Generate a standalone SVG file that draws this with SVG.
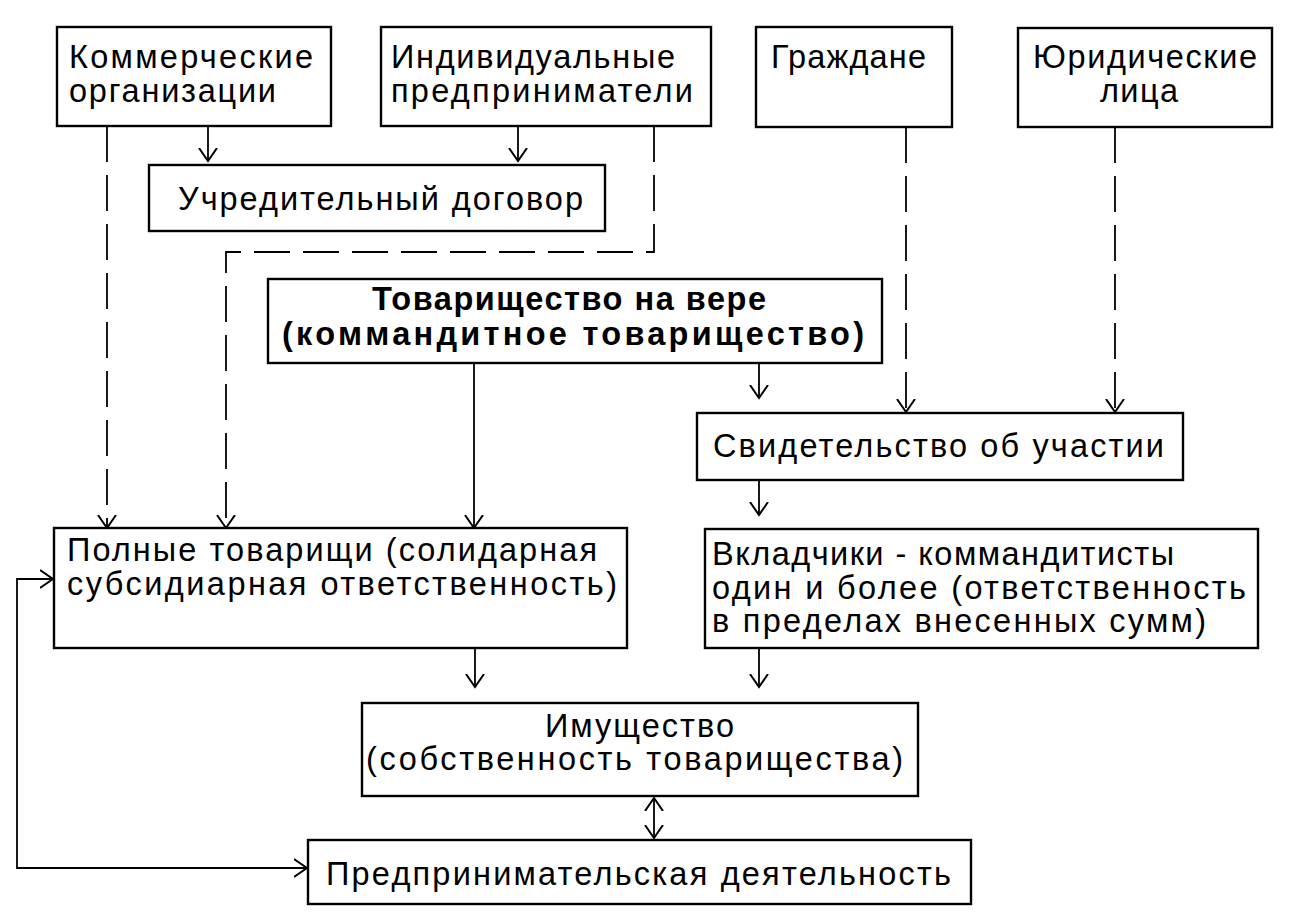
<svg xmlns="http://www.w3.org/2000/svg" width="1289" height="920" viewBox="0 0 1289 920">
<style>
.box{fill:#fff;stroke:#000;stroke-width:2.4}
.t{font-family:"Liberation Sans",Arial,sans-serif;font-size:32.5px;fill:#000}
.b{font-weight:bold}
.c{fill:none;stroke:#000;stroke-width:1.8}
.d{stroke-dasharray:36 13}
</style>
<defs>
<marker id="ah" markerUnits="userSpaceOnUse" markerWidth="22" markerHeight="22" refX="13" refY="10" orient="auto-start-reverse" viewBox="0 0 22 22">
<path d="M0,1 L13,10 L0,19" fill="none" stroke="#000" stroke-width="2"/>
</marker>
</defs>
<rect width="1289" height="920" fill="#fff"/>
<g id="connectors">
<path class="c" d="M208,126 V161" marker-end="url(#ah)"/>
<path class="c" d="M518,126 V161" marker-end="url(#ah)"/>
<path class="c d" d="M107,126 V528" marker-end="url(#ah)"/>
<path class="c d" d="M654,126 V252 H226 V528" marker-end="url(#ah)"/>
<path class="c" d="M474,363 V528" marker-end="url(#ah)"/>
<path class="c" d="M759,363 V398" marker-end="url(#ah)"/>
<path class="c d" d="M906,127 V412" marker-end="url(#ah)"/>
<path class="c d" d="M1115,127 V412" marker-end="url(#ah)"/>
<path class="c" d="M759,480 V515" marker-end="url(#ah)"/>
<path class="c" d="M475,648 V687" marker-end="url(#ah)"/>
<path class="c" d="M759,648 V687" marker-end="url(#ah)"/>
<path class="c" d="M654,798 V838" marker-start="url(#ah)" marker-end="url(#ah)"/>
<path class="c" d="M307,868 H17 V579 H53" marker-start="url(#ah)" marker-end="url(#ah)"/>
</g>
<g id="n-kommercheskie">
<rect class="box" x="57" y="27" width="274" height="99"/>
<text class="t" x="69" y="68" textLength="244" lengthAdjust="spacing">Коммерческие</text>
<text class="t" x="69" y="102" textLength="207" lengthAdjust="spacing">организации</text>
</g>
<g id="n-individualnye">
<rect class="box" x="381" y="27" width="330" height="99"/>
<text class="t" x="391" y="68" textLength="284" lengthAdjust="spacing">Индивидуальные</text>
<text class="t" x="391" y="102" textLength="302" lengthAdjust="spacing">предприниматели</text>
</g>
<g id="n-grazhdane">
<rect class="box" x="756" y="27" width="196" height="100"/>
<text class="t" x="771" y="68" textLength="155" lengthAdjust="spacing">Граждане</text>
</g>
<g id="n-yuridicheskie">
<rect class="box" x="1018" y="28" width="254" height="99"/>
<text class="t" x="1033" y="68" textLength="224" lengthAdjust="spacing">Юридические</text>
<text class="t" x="1100" y="102" textLength="78" lengthAdjust="spacing">лица</text>
</g>
<g id="n-dogovor">
<rect class="box" x="149" y="165" width="456" height="66"/>
<text class="t" x="178" y="210" textLength="405" lengthAdjust="spacing">Учредительный договор</text>
</g>
<g id="n-tovarishchestvo">
<rect class="box" x="268" y="279" width="614" height="84"/>
<text class="t b" x="372" y="310" textLength="394" lengthAdjust="spacing">Товарищество на вере</text>
<text class="t b" x="282" y="345" textLength="582" lengthAdjust="spacing">(коммандитное товарищество)</text>
</g>
<g id="n-svidetelstvo">
<rect class="box" x="697" y="413" width="486" height="67"/>
<text class="t" x="713" y="457" textLength="451" lengthAdjust="spacing">Свидетельство об участии</text>
</g>
<g id="n-polnye">
<rect class="box" x="54" y="528" width="573" height="120"/>
<text class="t" x="67" y="561" textLength="530" lengthAdjust="spacing">Полные товарищи (солидарная</text>
<text class="t" x="67" y="595" textLength="550" lengthAdjust="spacing">субсидиарная ответственность)</text>
</g>
<g id="n-vkladchiki">
<rect class="box" x="705" y="529" width="553" height="119"/>
<text class="t" x="712" y="565" textLength="462" lengthAdjust="spacing">Вкладчики - коммандитисты</text>
<text class="t" x="712" y="599" textLength="534" lengthAdjust="spacing">один и более (ответственность</text>
<text class="t" x="712" y="632" textLength="494" lengthAdjust="spacing">в пределах внесенных сумм)</text>
</g>
<g id="n-imushchestvo">
<rect class="box" x="362" y="703" width="556" height="93"/>
<text class="t" x="545" y="737" textLength="189" lengthAdjust="spacing">Имущество</text>
<text class="t" x="366" y="770" textLength="537" lengthAdjust="spacing">(собственность товарищества)</text>
</g>
<g id="n-deyatelnost">
<rect class="box" x="308" y="840" width="663" height="64"/>
<text class="t" x="326" y="885" textLength="625" lengthAdjust="spacing">Предпринимательская деятельность</text>
</g>
</svg>
